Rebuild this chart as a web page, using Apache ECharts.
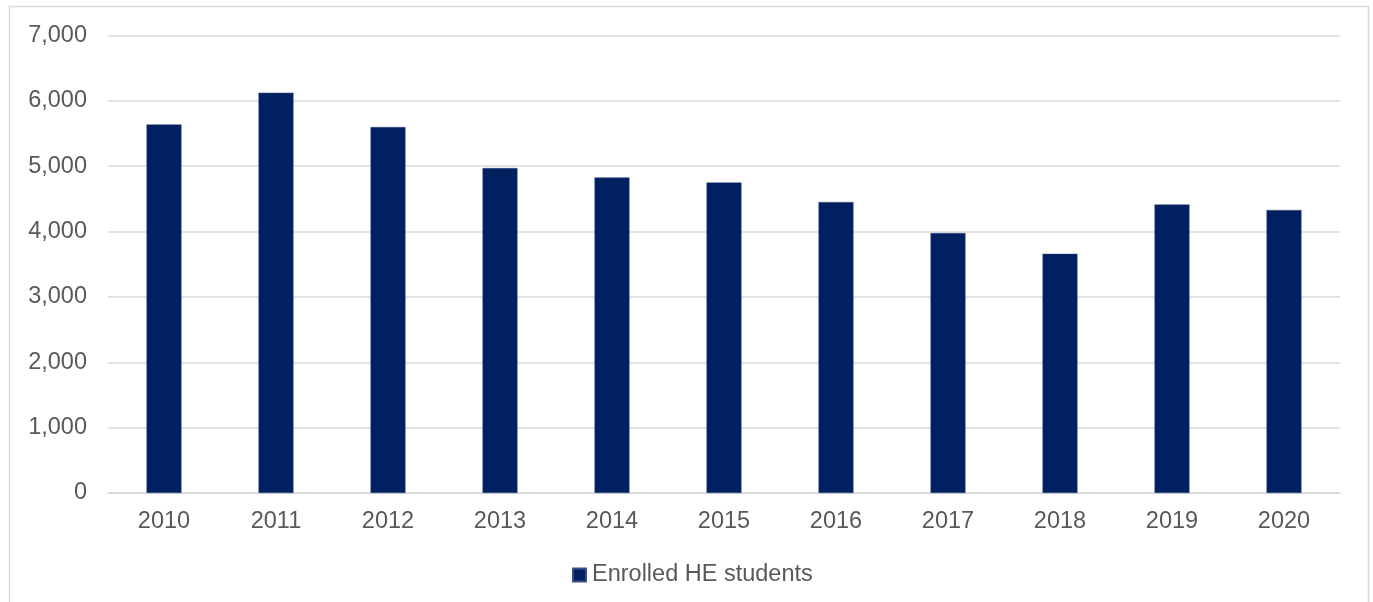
<!DOCTYPE html>
<html>
<head>
<meta charset="utf-8">
<style>
  html, body { margin: 0; padding: 0; background: #ffffff; }
  #chart { width: 1373px; height: 602px; }
</style>
<script src="https://cdn.jsdelivr.net/npm/echarts@6/dist/echarts.min.js"></script>
</head>
<body>
<div id="chart"></div>
<script>
// Enrolled higher-education students per year
const years = ['2010', '2011', '2012', '2013', '2014', '2015', '2016', '2017', '2018', '2019', '2020'];
const enrolled = [5640, 6125, 5600, 4972, 4829, 4752, 4452, 3977, 3660, 4415, 4329];
const seriesName = 'Enrolled HE students';

const textColor = '#595959';
const gridColor = '#d9d9d9';
const barColor = '#002060';
const fontFamily = '"Liberation Sans", Arial, sans-serif';
const fontSize = 23.5;

const chart = echarts.init(document.getElementById('chart'), null, { renderer: 'canvas' });

chart.setOption({
  animation: false,
  backgroundColor: '#ffffff',
  graphic: [{
    type: 'rect',
    shape: { x: 9.5, y: 6.5, width: 1359, height: 640 },
    style: { fill: 'none', stroke: gridColor, lineWidth: 1.5 },
    silent: true
  }],
  grid: { left: 108, right: 33, top: 35.5, bottom: 109, containLabel: false },
  legend: {
    data: [seriesName],
    bottom: 10,
    left: 567,
    icon: 'rect',
    itemWidth: 13,
    itemHeight: 13,
    textStyle: { color: textColor, fontSize: fontSize, fontFamily: fontFamily, padding: [0, 0, 0, 1] }
  },
  xAxis: {
    type: 'category',
    data: years,
    axisLine: { show: true, lineStyle: { color: gridColor, width: 1.5 } },
    axisTick: { show: false },
    axisLabel: { color: textColor, fontSize: fontSize, fontFamily: fontFamily, margin: 17 }
  },
  yAxis: {
    type: 'value',
    min: 0,
    max: 7000,
    interval: 1000,
    axisLine: { show: false },
    axisTick: { show: false },
    splitLine: { lineStyle: { color: gridColor, width: 1.5 } },
    axisLabel: {
      color: textColor,
      fontSize: fontSize,
      fontFamily: fontFamily,
      margin: 21,
      formatter: v => v.toLocaleString('en-US')
    }
  },
  series: [{
    name: seriesName,
    type: 'bar',
    data: enrolled,
    barWidth: 35,
    itemStyle: { color: barColor, borderColor: '#3a4f86', borderWidth: 0.5 }
  }]
});
</script>
</body>
</html>
